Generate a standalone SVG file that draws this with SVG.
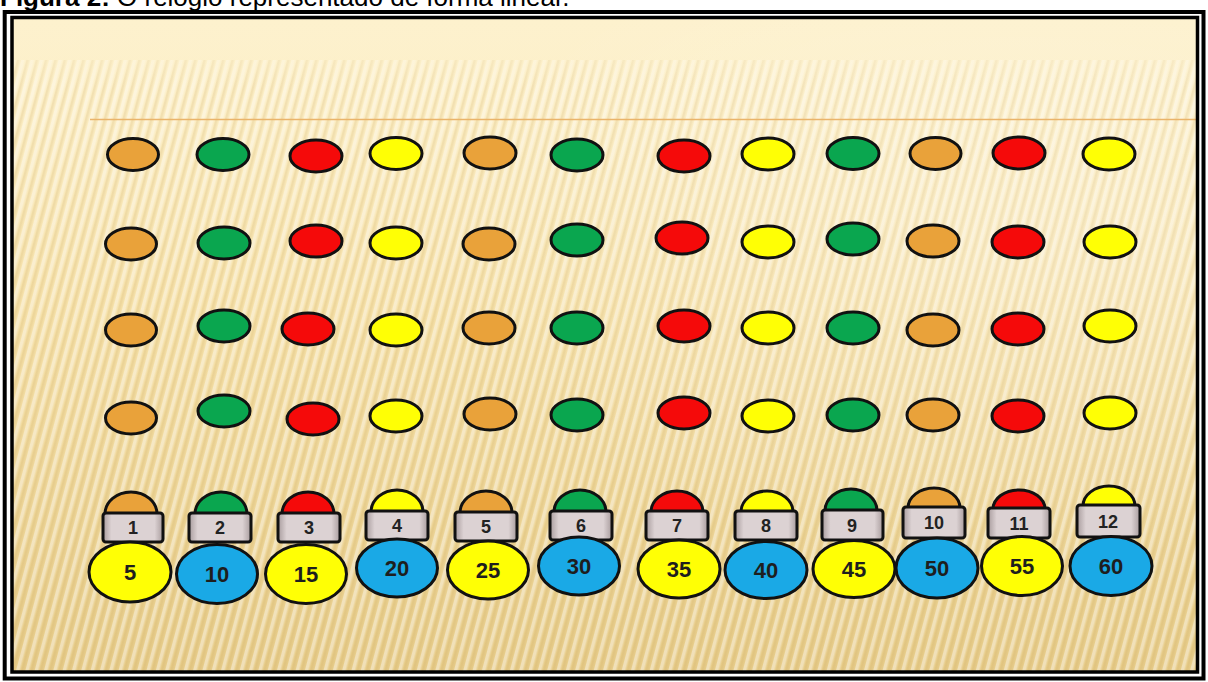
<svg xmlns="http://www.w3.org/2000/svg" width="1208" height="682" viewBox="0 0 1208 682">
<defs>
<linearGradient id="bg" x1="0" y1="0" x2="0" y2="1">
<stop offset="0" stop-color="#fdf1cd"/>
<stop offset="0.08" stop-color="#fcefc8"/>
<stop offset="0.45" stop-color="#f5e0a8"/>
<stop offset="1" stop-color="#e6cb88"/>
</linearGradient>
<linearGradient id="topfade" x1="0" y1="0" x2="0" y2="1">
<stop offset="0" stop-color="#fdf1cd" stop-opacity="1"/>
<stop offset="1" stop-color="#fdf1cd" stop-opacity="0"/>
</linearGradient>
<pattern id="stripes" width="9" height="9" patternUnits="userSpaceOnUse" patternTransform="rotate(15)">
<rect width="3.5" height="9" fill="#ffffff" opacity="0.4"/>
<rect x="5" width="2.5" height="9" fill="#c9a75c" opacity="0.18"/>
</pattern>
<linearGradient id="boxg" x1="0" y1="0" x2="1" y2="0">
<stop offset="0" stop-color="#a89c9d"/>
<stop offset="0.14" stop-color="#dcd2d3"/>
<stop offset="0.86" stop-color="#dcd2d3"/>
<stop offset="1" stop-color="#a89c9d"/>
</linearGradient>
<radialGradient id="swoosh" cx="0.85" cy="0.35" r="0.5">
<stop offset="0" stop-color="#ffffff" stop-opacity="0.25"/>
<stop offset="1" stop-color="#ffffff" stop-opacity="0"/>
</radialGradient>
</defs>
<style>
.dot{stroke:#111;stroke-width:3}
.o{fill:#e9a23a}
.g{fill:#0aa64f}
.r{fill:#f50a0a}
.y{fill:#ffff05}
.b{fill:#1aa9e6}
.box{fill:url(#boxg);stroke:#111;stroke-width:3}
.lbl{font-family:"Liberation Sans",Arial,sans-serif;font-weight:bold;font-size:18px;fill:#222;text-anchor:middle}
.num{font-family:"Liberation Sans",Arial,sans-serif;font-weight:bold;font-size:22px;fill:#1e1e1e;text-anchor:middle}
.cap{font-family:"Liberation Sans",Arial,sans-serif;font-size:26px;fill:#000}
</style>
<rect width="1208" height="682" fill="#ffffff"/>
<text class="cap" x="0" y="6"><tspan font-weight="bold">Figura 2:</tspan> O relógio representado de forma linear.</text>
<g id="frame">
<rect x="12" y="17.5" width="1185.5" height="654.5" fill="url(#bg)"/>
<rect x="12" y="60" width="1185.5" height="612" fill="url(#stripes)"/>
<rect x="12" y="17.5" width="1185.5" height="70" fill="url(#topfade)"/>
<rect x="12" y="17.5" width="1185.5" height="654.5" fill="url(#swoosh)"/>
<line x1="90" y1="119.5" x2="1197" y2="119.5" stroke="#eab46a" stroke-width="1.5"/>
<rect x="4.7" y="12" width="1198.8" height="666.5" fill="none" stroke="#000" stroke-width="4"/>
<rect x="12" y="17.5" width="1185.5" height="654.5" fill="none" stroke="#000" stroke-width="3.5"/>
</g>
<g id="row1">
<ellipse class="dot o" cx="133" cy="154.5" rx="25.5" ry="16"/>
<ellipse class="dot g" cx="223" cy="154.5" rx="26" ry="16"/>
<ellipse class="dot r" cx="316" cy="156" rx="26" ry="16"/>
<ellipse class="dot y" cx="396" cy="153.5" rx="26" ry="16"/>
<ellipse class="dot o" cx="490" cy="153" rx="26" ry="16"/>
<ellipse class="dot g" cx="577" cy="155" rx="26" ry="16"/>
<ellipse class="dot r" cx="684" cy="156" rx="26" ry="16"/>
<ellipse class="dot y" cx="768" cy="154" rx="26" ry="16"/>
<ellipse class="dot g" cx="853" cy="153.5" rx="26" ry="16"/>
<ellipse class="dot o" cx="935.5" cy="153.5" rx="25.5" ry="16"/>
<ellipse class="dot r" cx="1019" cy="153" rx="26" ry="16"/>
<ellipse class="dot y" cx="1109" cy="154" rx="26" ry="16"/>
</g>
<g id="row2">
<ellipse class="dot o" cx="131" cy="244" rx="25.5" ry="16"/>
<ellipse class="dot g" cx="224" cy="243" rx="26" ry="16"/>
<ellipse class="dot r" cx="316" cy="241" rx="26" ry="16"/>
<ellipse class="dot y" cx="396" cy="243" rx="26" ry="16"/>
<ellipse class="dot o" cx="489" cy="244" rx="26" ry="16"/>
<ellipse class="dot g" cx="577" cy="240" rx="26" ry="16"/>
<ellipse class="dot r" cx="682" cy="238" rx="26" ry="16"/>
<ellipse class="dot y" cx="768" cy="242" rx="26" ry="16"/>
<ellipse class="dot g" cx="853" cy="239" rx="26" ry="16"/>
<ellipse class="dot o" cx="933" cy="241" rx="26" ry="16"/>
<ellipse class="dot r" cx="1018" cy="242" rx="26" ry="16"/>
<ellipse class="dot y" cx="1110" cy="242" rx="26" ry="16"/>
</g>
<g id="row3">
<ellipse class="dot o" cx="131" cy="330" rx="25.5" ry="16"/>
<ellipse class="dot g" cx="224" cy="326" rx="26" ry="16"/>
<ellipse class="dot r" cx="308" cy="329" rx="26" ry="16"/>
<ellipse class="dot y" cx="396" cy="330" rx="26" ry="16"/>
<ellipse class="dot o" cx="489" cy="328" rx="26" ry="16"/>
<ellipse class="dot g" cx="577" cy="328" rx="26" ry="16"/>
<ellipse class="dot r" cx="684" cy="326" rx="26" ry="16"/>
<ellipse class="dot y" cx="768" cy="328" rx="26" ry="16"/>
<ellipse class="dot g" cx="853" cy="328" rx="26" ry="16"/>
<ellipse class="dot o" cx="933" cy="330" rx="26" ry="16"/>
<ellipse class="dot r" cx="1018" cy="329" rx="26" ry="16"/>
<ellipse class="dot y" cx="1110" cy="326" rx="26" ry="16"/>
</g>
<g id="row4">
<ellipse class="dot o" cx="131" cy="418" rx="25.5" ry="16"/>
<ellipse class="dot g" cx="224" cy="411" rx="26" ry="16"/>
<ellipse class="dot r" cx="313" cy="419" rx="26" ry="16"/>
<ellipse class="dot y" cx="396" cy="416" rx="26" ry="16"/>
<ellipse class="dot o" cx="490" cy="414" rx="26" ry="16"/>
<ellipse class="dot g" cx="577" cy="415" rx="26" ry="16"/>
<ellipse class="dot r" cx="684" cy="413" rx="26" ry="16"/>
<ellipse class="dot y" cx="768" cy="416" rx="26" ry="16"/>
<ellipse class="dot g" cx="853" cy="415" rx="26" ry="16"/>
<ellipse class="dot o" cx="933" cy="415" rx="26" ry="16"/>
<ellipse class="dot r" cx="1018" cy="416" rx="26" ry="16"/>
<ellipse class="dot y" cx="1110" cy="413" rx="26" ry="16"/>
</g>
<g id="hour1">
<path class="dot o" d="M105,514 A26,22 0 0 1 157,514 Z"/>
<rect class="box" x="103" y="513" width="60" height="29" rx="3"/>
<text class="lbl" x="133" y="534">1</text>
<ellipse class="dot y" cx="130" cy="572" rx="41" ry="30"/>
<text class="num" x="130" y="580">5</text>
</g>
<g id="hour2">
<path class="dot g" d="M195,514 A26,22 0 0 1 247,514 Z"/>
<rect class="box" x="189" y="513" width="62" height="29" rx="3"/>
<text class="lbl" x="220" y="534">2</text>
<ellipse class="dot b" cx="217" cy="574" rx="40.5" ry="29.5"/>
<text class="num" x="217" y="582">10</text>
</g>
<g id="hour3">
<path class="dot r" d="M282,514 A26,22 0 0 1 334,514 Z"/>
<rect class="box" x="278" y="513" width="62" height="29" rx="3"/>
<text class="lbl" x="309" y="534">3</text>
<ellipse class="dot y" cx="306" cy="574" rx="40.5" ry="29.5"/>
<text class="num" x="306" y="582">15</text>
</g>
<g id="hour4">
<path class="dot y" d="M371,512 A26,22 0 0 1 423,512 Z"/>
<rect class="box" x="366" y="511" width="62" height="29" rx="3"/>
<text class="lbl" x="397" y="532">4</text>
<ellipse class="dot b" cx="397" cy="568" rx="40.5" ry="29"/>
<text class="num" x="397" y="576">20</text>
</g>
<g id="hour5">
<path class="dot o" d="M460,513 A26,22 0 0 1 512,513 Z"/>
<rect class="box" x="455" y="512" width="62" height="29" rx="3"/>
<text class="lbl" x="486" y="533">5</text>
<ellipse class="dot y" cx="488" cy="570" rx="40.5" ry="29"/>
<text class="num" x="488" y="578">25</text>
</g>
<g id="hour6">
<path class="dot g" d="M554,512 A26,22 0 0 1 606,512 Z"/>
<rect class="box" x="550" y="511" width="62" height="29" rx="3"/>
<text class="lbl" x="581" y="532">6</text>
<ellipse class="dot b" cx="579" cy="566" rx="40.5" ry="29"/>
<text class="num" x="579" y="574">30</text>
</g>
<g id="hour7">
<path class="dot r" d="M651,512 A26,21 0 0 1 703,512 Z"/>
<rect class="box" x="646" y="511" width="62" height="29" rx="3"/>
<text class="lbl" x="677" y="532">7</text>
<ellipse class="dot y" cx="679" cy="569" rx="41" ry="29"/>
<text class="num" x="679" y="577">35</text>
</g>
<g id="hour8">
<path class="dot y" d="M741,512 A26,21 0 0 1 793,512 Z"/>
<rect class="box" x="735" y="511" width="62" height="29" rx="3"/>
<text class="lbl" x="766" y="532">8</text>
<ellipse class="dot b" cx="766" cy="570" rx="41" ry="28.5"/>
<text class="num" x="766" y="578">40</text>
</g>
<g id="hour9">
<path class="dot g" d="M825,511 A26,22 0 0 1 877,511 Z"/>
<rect class="box" x="822" y="510" width="61" height="30" rx="3"/>
<text class="lbl" x="852" y="532">9</text>
<ellipse class="dot y" cx="854" cy="569" rx="41" ry="28.5"/>
<text class="num" x="854" y="577">45</text>
</g>
<g id="hour10">
<path class="dot o" d="M908,508 A26,20 0 0 1 960,508 Z"/>
<rect class="box" x="903" y="507" width="62" height="31" rx="3"/>
<text class="lbl" x="934" y="529">10</text>
<ellipse class="dot b" cx="937" cy="568" rx="41" ry="30"/>
<text class="num" x="937" y="576">50</text>
</g>
<g id="hour11">
<path class="dot r" d="M993,509 A26,19 0 0 1 1045,509 Z"/>
<rect class="box" x="988" y="508" width="62" height="30" rx="3"/>
<text class="lbl" x="1019" y="530">11</text>
<ellipse class="dot y" cx="1022" cy="566" rx="40.5" ry="29.5"/>
<text class="num" x="1022" y="574">55</text>
</g>
<g id="hour12">
<path class="dot y" d="M1083,506 A26,20 0 0 1 1135,506 Z"/>
<rect class="box" x="1077" y="505" width="63" height="32" rx="3"/>
<text class="lbl" x="1108" y="528">12</text>
<ellipse class="dot b" cx="1111" cy="566" rx="41" ry="29.5"/>
<text class="num" x="1111" y="574">60</text>
</g>
<g id="connectors"/>
</svg>
